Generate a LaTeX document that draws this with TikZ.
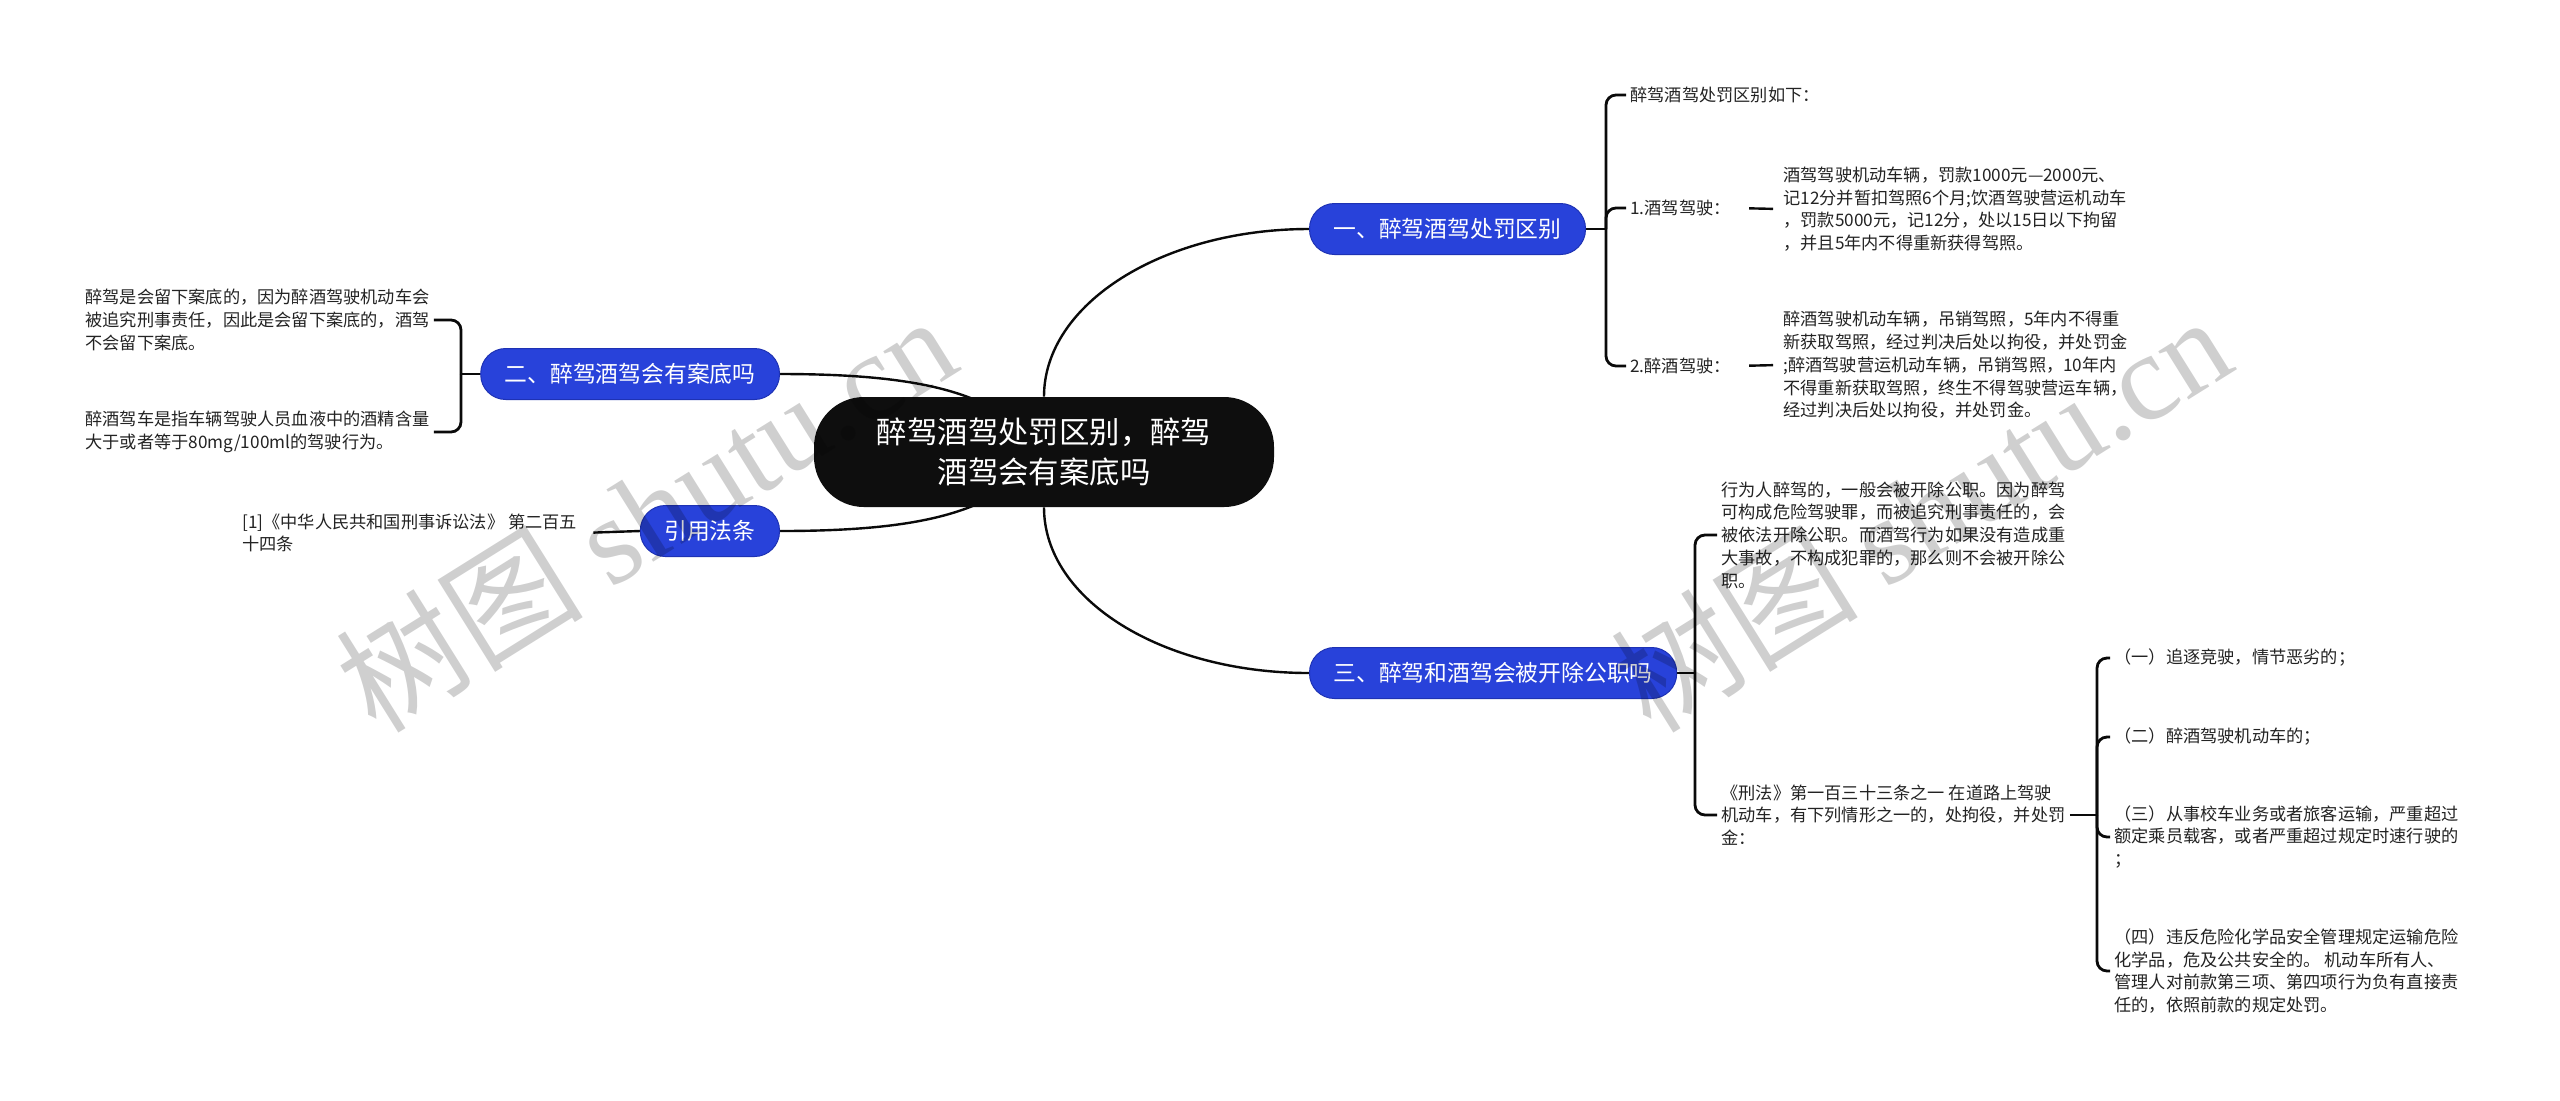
\documentclass[tikz,border=0pt]{standalone}
\usepackage{fontspec}
\setmainfont{Noto Sans CJK SC}
\newfontfamily\wmlatin{Liberation Serif}
\usepackage{tikz}
\usetikzlibrary{backgrounds}
\definecolor{rootcolor}{RGB}{14,14,14}
\definecolor{branchcolor}{RGB}{40,66,218}
\definecolor{branchedge}{RGB}{30,50,180}
\definecolor{leafcolor}{RGB}{35,35,35}
\definecolor{linecolor}{RGB}{10,10,10}
\tikzset{
rootblock/.style={
  fill=rootcolor,
  rounded corners=25pt,
  minimum width=230pt,
  minimum height=55pt,
  align=center,
  text=white,
  font=\fontsize{15.2}{20}\selectfont
},
branchblock/.style={
  fill=branchcolor,
  draw=branchedge,
  line width=0.5pt,
  rounded corners=12.5pt,
  minimum height=25.5pt,
  inner xsep=12pt,
  text=white,
  font=\fontsize{11.4}{14}\selectfont
},
leaftext/.style={
  align=left,
  inner sep=2pt,
  text=leafcolor,
  font=\fontsize{8.6}{11.35}\selectfont
},
link/.style={
  draw=linecolor,
  line width=1.2pt
},
bracket/.style={
  link,
  line width=1.4pt,
  rounded corners=5pt
},
watermark/.style={
  text=black,
  text opacity=0.19,
  font=\fontsize{62}{66}\selectfont
}
}

\begin{document}
\begin{tikzpicture}[x=0.5pt,y=-0.5pt]
\useasboundingbox (0,0) rectangle (2560,1100);

% centre
\node[rootblock] (root) at (1044,452) {醉驾酒驾处罚区别，醉驾\\酒驾会有案底吗};

% branches
\node[branchblock, anchor=west] (n1) at (1309,229) {一、醉驾酒驾处罚区别};
\node[branchblock, anchor=west] (n3) at (1309,673) {三、醉驾和酒驾会被开除公职吗};
\node[branchblock, anchor=east] (n2) at (780,374) {二、醉驾酒驾会有案底吗};
\node[branchblock, anchor=east] (n4) at (780,531) {引用法条};

% branch one
\node[leaftext, anchor=west] (t0) at (1626,95) {醉驾酒驾处罚区别如下：};
\node[leaftext, anchor=west] (d1) at (1626,208) {1.酒驾驾驶：};
\node[leaftext, anchor=west] (d1t) at (1779,209) {酒驾驾驶机动车辆，罚款1000元—2000元、\\记12分并暂扣驾照6个月;饮酒驾驶营运机动车\\，罚款5000元，记12分，处以15日以下拘留\\，并且5年内不得重新获得驾照。};
\node[leaftext, anchor=west] (d2) at (1626,366) {2.醉酒驾驶：};
\node[leaftext, anchor=west] (d2t) at (1779,365) {醉酒驾驶机动车辆，吊销驾照，5年内不得重\\新获取驾照，经过判决后处以拘役，并处罚金\\;醉酒驾驶营运机动车辆，吊销驾照，10年内\\不得重新获取驾照，终生不得驾驶营运车辆，\\经过判决后处以拘役，并处罚金。};

% branch three
\node[leaftext, anchor=west] (f1) at (1717,535) {行为人醉驾的，一般会被开除公职。因为醉驾\\可构成危险驾驶罪，而被追究刑事责任的，会\\被依法开除公职。而酒驾行为如果没有造成重\\大事故，不构成犯罪的，那么则不会被开除公\\职。};
\node[leaftext, anchor=west] (f2) at (1717,815) {《刑法》第一百三十三条之一 在道路上驾驶\\机动车，有下列情形之一的，处拘役，并处罚\\金：};
\node[leaftext, anchor=west] (g1) at (2110,658) {（一）追逐竞驶，情节恶劣的；};
\node[leaftext, anchor=west] (g2) at (2110,737) {（二）醉酒驾驶机动车的；};
\node[leaftext, anchor=west] (g3) at (2110,837) {（三）从事校车业务或者旅客运输，严重超过\\额定乘员载客，或者严重超过规定时速行驶的\\；};
\node[leaftext, anchor=west] (g4) at (2110,971) {（四）违反危险化学品安全管理规定运输危险\\化学品，危及公共安全的。 机动车所有人、\\管理人对前款第三项、第四项行为负有直接责\\任的，依照前款的规定处罚。};

% left side
\node[leaftext, anchor=west] (e1) at (81,320) {醉驾是会留下案底的，因为醉酒驾驶机动车会\\被追究刑事责任，因此是会留下案底的，酒驾\\不会留下案底。};
\node[leaftext, anchor=west] (e2) at (81,432) {醉酒驾车是指车辆驾驶人员血液中的酒精含量\\大于或者等于80mg/100ml的驾驶行为。};
\node[leaftext, anchor=west] (c1) at (238,533) {[1]《中华人民共和国刑事诉讼法》 第二百五\\十四条};

\coordinate (b1) at (1606,229);
\coordinate (b3) at (1695,673);
\coordinate (b5) at (2097,815);
\coordinate (b2) at (461,374);

\begin{scope}[on background layer]
  \fill[white] (0,0) rectangle (2560,1100);
  \draw[link] (root.north) .. controls +(0,-93) and +(-146,0) .. (n1.west);
  \draw[link] (root.south) .. controls +(0,93) and +(-146,0) .. (n3.west);
  \draw[link] (n2.east) .. controls +(150,0) and +(-44,-57) .. (root.center);
  \draw[link] (n4.east) .. controls +(150,0) and +(-44,58) .. (root.center);
  % brackets
  \draw[link] (n1.east) -- (b1);
  \foreach \leaf in {t0,d1,d2}
    \draw[bracket] (b1) |- (\leaf.west);
  \draw[link, shorten <=7pt, shorten >=3pt] (d1.east) -- (d1t.west);
  \draw[link, shorten <=7pt, shorten >=3pt] (d2.east) -- (d2t.west);
  \draw[link] (n3.east) -- (b3);
  \draw[bracket] (b3) |- (f1.west);
  \draw[bracket] (b3) |- (f2.west);
  \draw[link] (f2.east) -- (b5);
  \foreach \leaf in {g1,g2,g3,g4}
    \draw[bracket] (b5) |- (\leaf.west);
  \draw[link] (n2.west) -- (b2);
  \draw[bracket] (b2) |- (e1.east);
  \draw[bracket] (b2) |- (e2.east);
  \draw[link, shorten >=6pt] (n4.west) -- (c1.east);
\end{scope}

% watermark
\node[watermark, rotate=32] (wm1) at (645,512) {树图 {\wmlatin shutu.cn}};
\node[watermark, rotate=32] (wm2) at (1920,512) {树图 {\wmlatin shutu.cn}};
\end{tikzpicture}
\end{document}
